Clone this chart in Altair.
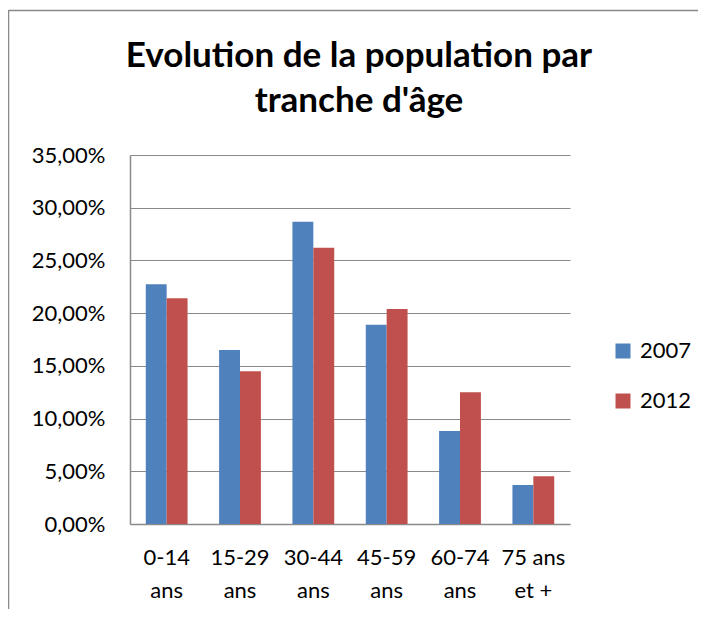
import altair as alt
import pandas as pd

categories = ["0-14\nans", "15-29\nans", "30-44\nans", "45-59\nans", "60-74\nans", "75 ans\net +"]
years = ["2007", "2012"]
v2007 = [0.2274, 0.1650, 0.2868, 0.1890, 0.0882, 0.0370]
v2012 = [0.2141, 0.1450, 0.2620, 0.2040, 0.1250, 0.0453]
colors = ["#4F81BD", "#C0504D"]
y_ticks = [0, 0.05, 0.10, 0.15, 0.20, 0.25, 0.30, 0.35]
title_text = "Evolution de la population par\ntranche d'âge"

rows = []
for c, a, b in zip(categories, v2007, v2012):
    rows.append({"cat": c, "year": "2007", "val": a})
    rows.append({"cat": c, "year": "2012", "val": b})
df = pd.DataFrame(rows)

FONT = "Lato"
GRID = "#8a8a8a"

bars = alt.Chart(df).mark_bar().encode(
    x=alt.X(
        "cat:N", sort=categories, title=None,
        scale=alt.Scale(paddingInner=0.43, paddingOuter=0.215),
        axis=alt.Axis(labelAngle=0, labelExpr="split(datum.label, '\\n')", ticks=False,
                      labelPadding=23, labelLineHeight=33, domainColor=GRID, domainWidth=1.5,
                      labelFontSize=22, labelColor="#000", labelFont=FONT, grid=False),
    ),
    xOffset=alt.XOffset("year:N", sort=years, scale=alt.Scale(paddingInner=0, paddingOuter=0)),
    y=alt.Y(
        "val:Q", title=None, scale=alt.Scale(domain=[0, 0.35], nice=False),
        axis=alt.Axis(values=y_ticks, labelExpr="replace(format(datum.value, '.2%'), '.', ',')",
                      ticks=False, labelPadding=25, gridColor=GRID, gridWidth=1.2,
                      domainColor=GRID, domainWidth=1.5, labelFontSize=22, labelColor="#000",
                      labelFont=FONT),
    ),
    color=alt.Color(
        "year:N", scale=alt.Scale(domain=years, range=colors),
        legend=alt.Legend(title=None, orient="none", legendX=482, legendY=185,
                          symbolType="square", symbolSize=225, labelFontSize=22,
                          labelFont=FONT, labelColor="#000", rowPadding=28, labelOffset=6,
                          symbolStrokeWidth=0, symbolOpacity=1, padding=0),
    ),
)

frame_df = pd.DataFrame({"k": [0]})
left_border = alt.Chart(frame_df).mark_rule(color="#888", strokeWidth=1.5).encode(
    x=alt.value(-121.5), y=alt.value(-145), y2=alt.value(470))
top_border = alt.Chart(frame_df).mark_rule(color="#888", strokeWidth=1.5).encode(
    y=alt.value(-144.5), x=alt.value(-121.5), x2=alt.value(600))

title_df = pd.DataFrame({"t": [title_text]})
title = alt.Chart(title_df).mark_text(
    font=FONT, fontSize=35, fontWeight="bold", color="#000", align="center",
    baseline="alphabetic", lineBreak="\n", lineHeight=45,
).encode(text="t:N", x=alt.value(229), y=alt.value(-88))

chart = alt.layer(bars, left_border, top_border, title).properties(
    width=440, height=369,
    padding={"left": 122, "top": 147, "right": 128, "bottom": 85},
    autosize=alt.AutoSizeParams(type="none"),
).configure_view(stroke=None)

chart.save("out.html", embed_options={"renderer": "svg", "actions": False})
